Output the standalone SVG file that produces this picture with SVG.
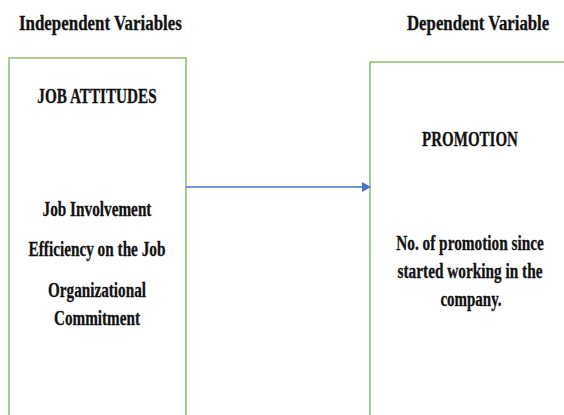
<svg xmlns="http://www.w3.org/2000/svg" width="564" height="415" viewBox="0 0 564 415">
<style>
.box{fill:none;stroke:#8cbb6c;stroke-width:1.5}
.conn{stroke:#4472c4;stroke-width:1.6;fill:none}
text{font-family:'Liberation Serif','Times New Roman',serif;font-weight:bold;font-size:21px;fill:#111111;stroke:#111111;stroke-width:0.3}
.c{text-anchor:middle}
</style>
<defs>
<marker id="ah" markerWidth="9" markerHeight="10" refX="8" refY="5" orient="auto" markerUnits="userSpaceOnUse">
<path d="M0,0 L9,5 L0,10 Z" fill="#4472c4"/>
</marker>
</defs>
<rect width="564" height="415" fill="#ffffff"/>
<g id="heading-independent"><text transform="translate(19,30) scale(0.805,1)">Independent Variables</text></g>
<g id="heading-dependent"><text transform="translate(407,30) scale(0.8,1)">Dependent Variable</text></g>
<g id="job-attitudes">
<path class="box" d="M9,415 V58 H186 V415"/>
<text class="c" transform="translate(97,103) scale(0.725,1)">JOB ATTITUDES</text>
<text class="c" transform="translate(97,216) scale(0.727,1)">Job Involvement</text>
<text class="c" transform="translate(97,256) scale(0.727,1)">Efficiency on the Job</text>
<text class="c" transform="translate(97,297) scale(0.724,1)">Organizational</text>
<text class="c" transform="translate(97,325) scale(0.723,1)">Commitment</text>
</g>
<g id="promotion">
<path class="box" d="M370,415 V62 H564"/>
<text class="c" transform="translate(470,146) scale(0.715,1)">PROMOTION</text>
<text class="c" transform="translate(470,250) scale(0.729,1)">No. of promotion since</text>
<text class="c" transform="translate(470,278) scale(0.729,1)">started working in the</text>
<text class="c" transform="translate(471,306) scale(0.713,1)">company.</text>
</g>
<g id="connectors">
<line class="conn" x1="186" y1="187" x2="370" y2="187" marker-end="url(#ah)"/>
</g>
</svg>
